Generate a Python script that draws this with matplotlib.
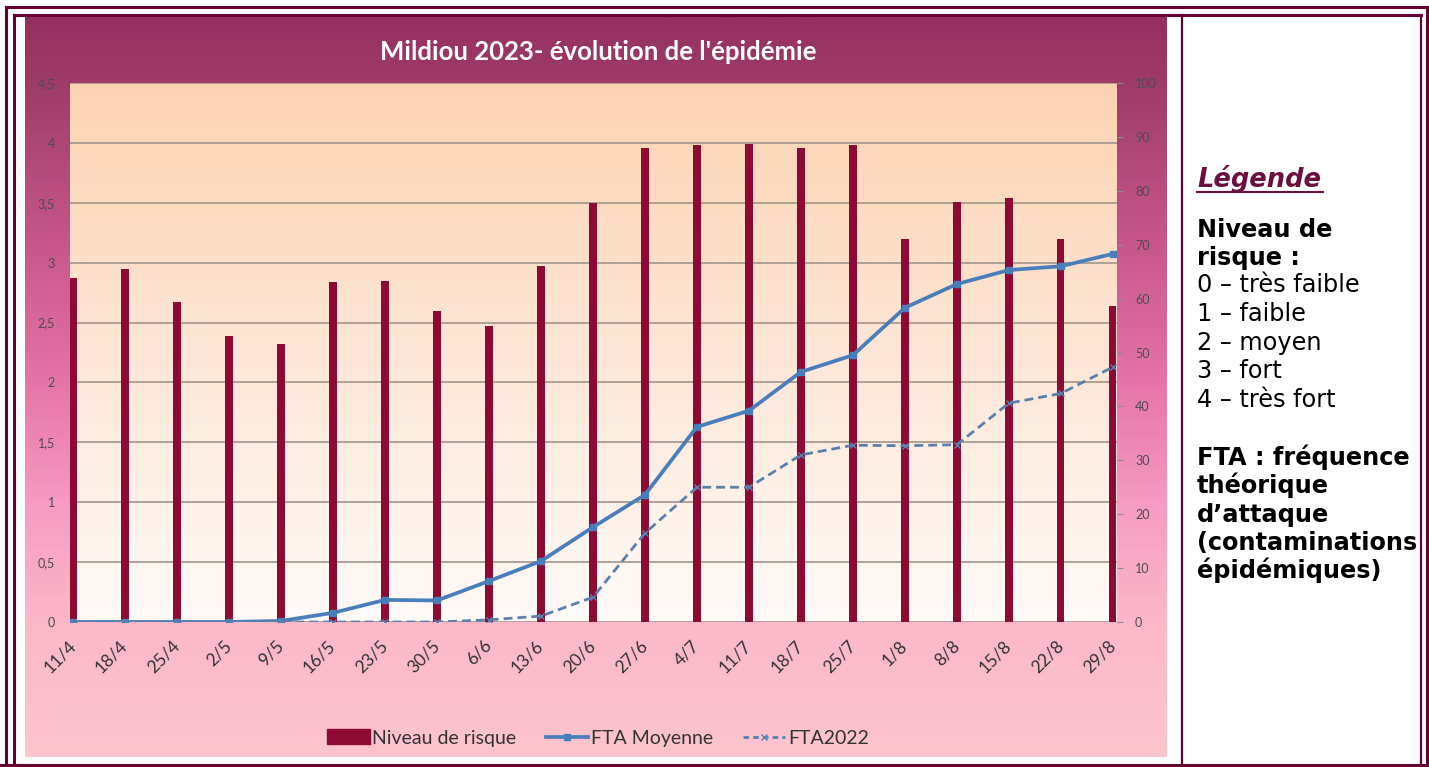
import numpy as np
import matplotlib.pyplot as plt
from matplotlib.colors import LinearSegmentedColormap
from matplotlib.lines import Line2D
from matplotlib.patches import Patch

plt.rcParams['font.family'] = ['Lato', 'DejaVu Sans']

# data
dates = ['11/4', '18/4', '25/4', '2/5', '9/5', '16/5', '23/5', '30/5', '6/6', '13/6',
         '20/6', '27/6', '4/7', '11/7', '18/7', '25/7', '1/8', '8/8', '15/8', '22/8', '29/8']
risque = [2.87, 2.95, 2.67, 2.39, 2.32, 2.84, 2.85, 2.60, 2.47, 2.97,
          3.50, 3.96, 3.98, 3.99, 3.96, 3.98, 3.20, 3.51, 3.54, 3.20, 2.64]
fta_moyenne = [0, 0, 0, 0, 0.2, 1.7, 4.1, 4.0, 7.6, 11.3,
               17.6, 23.6, 36.2, 39.2, 46.4, 49.5, 58.3, 62.7, 65.3, 66.0, 68.3]
fta_2022 = [0, 0, 0, 0, 0, 0, 0, 0, 0.4, 1.1,
            4.6, 16.5, 25.0, 25.0, 31.0, 32.8, 32.7, 32.9, 40.6, 42.4, 47.3]
left_ticks = [0, 0.5, 1, 1.5, 2, 2.5, 3, 3.5, 4, 4.5]
right_ticks = [0, 10, 20, 30, 40, 50, 60, 70, 80, 90, 100]

title = "Mildiou 2023- évolution de l'épidémie"
legend_labels = ['Niveau de risque', 'FTA Moyenne', 'FTA2022']

maroon = '#660033'
bar_color = '#8c0a33'
blue = '#4a7ebb'
blue2 = '#5a80ab'
tick_color = '#4d4d4d'

W, H = 1429, 767
fig = plt.figure(figsize=(W / 100, H / 100), dpi=100)
fig.patch.set_facecolor('white')


def fx(px):
    return px / W


def fy(py):
    return 1 - py / H


# background layer in pixel coordinates
bg = fig.add_axes([0, 0, 1, 1], zorder=0)
bg.axis('off')
chart_cmap = LinearSegmentedColormap.from_list('chart', [
    (0.0, '#93305f'), (0.12, '#a3406d'), (0.3, '#c6568a'), (0.5, '#e676a9'),
    (0.66, '#f69bc1'), (0.82, '#fbb8c9'), (1.0, '#fdc4ce')])
bg.imshow(np.linspace(0, 1, 256).reshape(-1, 1), cmap=chart_cmap,
          extent=(25, 1167, 757, 17), aspect='auto', zorder=0)
bg.set_xlim(0, W)
bg.set_ylim(H, 0)

# double frame + separator
lw3 = 2.2
bg.plot([6.5, 6.5], [6.5, 767], color=maroon, lw=lw3)
bg.plot([6.5, 1427], [6.5, 6.5], color=maroon, lw=lw3)
bg.plot([14.5, 14.5], [14.5, 767], color=maroon, lw=lw3)
bg.plot([14.5, 1421], [14.5, 14.5], color=maroon, lw=lw3)
bg.plot([1421, 1421], [14.5, 767], color=maroon, lw=1.6)
bg.plot([1427, 1427], [6.5, 767], color=maroon, lw=lw3)
bg.plot([0, W], [765, 765], color=maroon, lw=lw3)
bg.plot([1182, 1182], [14.5, 767], color=maroon, lw=1.6)

bg.text(598, 52, title, ha='center', va='center', color='white',
        fontsize=18.5, fontweight='bold')

# right-hand legend panel
bg.text(1197, 187, 'Légende', ha='left', va='baseline', color='#6b0f3f',
        fontsize=18.5, fontweight='bold', fontstyle='italic', family='DejaVu Sans')
bg.plot([1197, 1323], [191.5, 191.5], color='#6b0f3f', lw=1.5)
panel_lines = [
    ('Niveau de', 'bold', 237), ('risque :', 'bold', 265),
    ('0 – très faible', 'normal', 292), ('1 – faible', 'normal', 321),
    ('2 – moyen', 'normal', 350), ('3 – fort', 'normal', 378),
    ('4 – très fort', 'normal', 407),
    ('FTA : fréquence', 'bold', 465), ('théorique', 'bold', 493),
    ('d’attaque', 'bold', 522), ('(contaminations', 'bold', 550),
    ('épidémiques)', 'bold', 578)]
for txt, weight, yb in panel_lines:
    bg.text(1197, yb, txt, ha='left', va='baseline', color='black',
            fontsize=17.3, fontweight=weight, family='DejaVu Sans')

# plot area
x = np.arange(len(dates))
xmin, xmax = -0.06, len(dates) - 1 + 0.08
ax = fig.add_axes([fx(70), fy(622), fx(1117) - fx(70), (622 - 83) / H], zorder=2)
ax.patch.set_visible(False)
plot_cmap = LinearSegmentedColormap.from_list('plot', ['#fbd3b2', '#fde6d6', '#fffaf8'])
ax.imshow(np.linspace(0, 1, 256).reshape(-1, 1), cmap=plot_cmap,
          extent=(xmin, xmax, 0, 4.5), aspect='auto', zorder=0)
ax.set_xlim(xmin, xmax)
ax.set_ylim(0, 4.5)
ax.set_yticks(left_ticks)
ax.set_yticklabels([f'{v:g}'.replace('.', ',') for v in left_ticks])
ax.grid(axis='y', color='#a99b8f', lw=1.3, zorder=0.5)
ax.set_axisbelow(True)
ax.bar(x, risque, width=0.14, color=bar_color, zorder=2)
ax.set_xticks(x)
ax.set_xticklabels(dates, rotation=45, ha='right', va='center',
                   rotation_mode='anchor', fontsize=12.5, color='#333333')
ax.tick_params(axis='x', length=0, pad=15)
ax.tick_params(axis='y', length=0, pad=11, labelsize=9, labelcolor=tick_color)
for s in ax.spines.values():
    s.set_visible(False)

ax2 = ax.twinx()
ax2.set_zorder(3)
ax2.plot(x, fta_moyenne, color=blue, lw=2.7, marker='s', ms=4, zorder=3)
ax2.plot(x, fta_2022, color=blue2, lw=2.0, ls=(0, (3.2, 1.8)), marker='x', ms=4,
         mew=1, zorder=3)
ax2.set_ylim(0, 100)
ax2.set_yticks(right_ticks)
ax2.tick_params(axis='y', length=4, width=0.8, color='#8c8c8c', pad=9,
                labelsize=9, labelcolor=tick_color)
for s in ax2.spines.values():
    s.set_visible(False)

handles = [Patch(color=bar_color),
           Line2D([], [], color=blue, lw=2.7, marker='s', ms=4),
           Line2D([], [], color=blue2, lw=2.0, ls=(0, (2, 1.5)), marker='x', ms=4, mew=1)]
fig.legend(handles, legend_labels, loc='center', bbox_to_anchor=(fx(598), fy(738)),
           ncol=3, frameon=False, fontsize=14, handlelength=2.2, handleheight=0.8,
           handletextpad=0.15, columnspacing=1.5, labelcolor='#333333')

fig.savefig('out.png', dpi=100)
